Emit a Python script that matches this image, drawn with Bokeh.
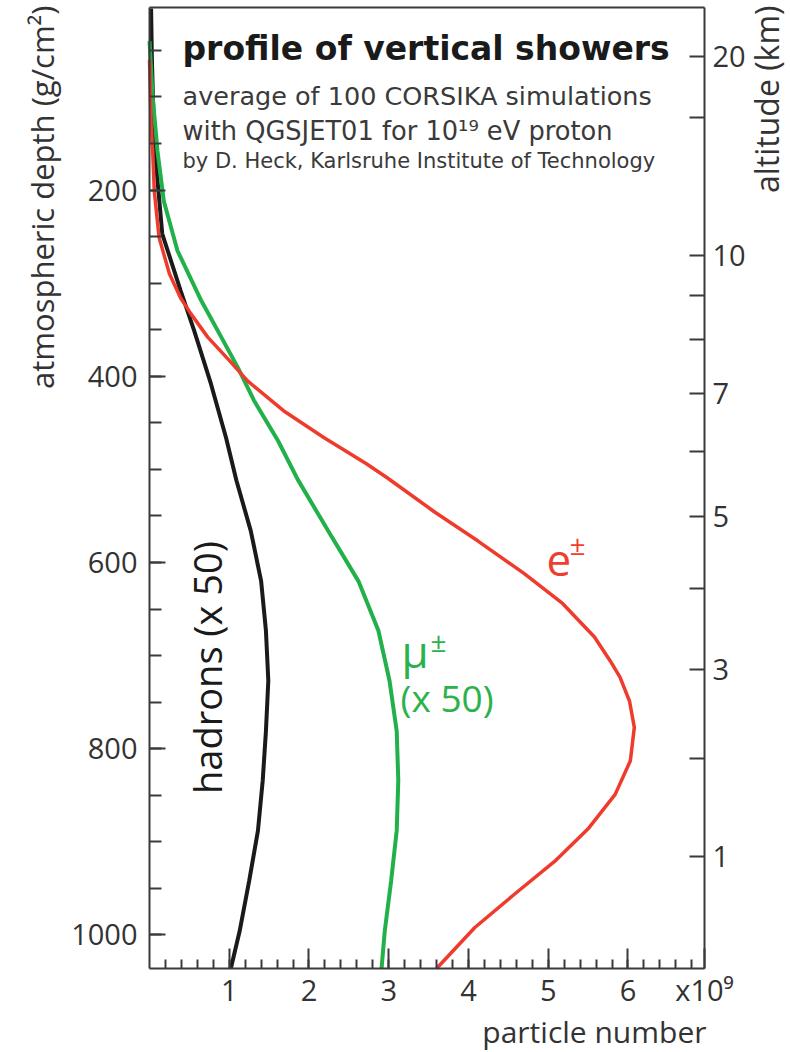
import math
from bokeh.plotting import figure
from bokeh.models import Range1d, LinearAxis, FixedTicker, Label
from bokeh.embed import file_html
from bokeh.resources import INLINE

# ---------------- data ----------------
# particle numbers in units of 1e9, depth in g/cm^2
hadron_depth = [5, 60, 120, 170, 247, 308, 351, 408, 466, 512, 566, 620, 673, 727,
                781, 834, 888, 942, 996, 1036]
hadron_n = [0.02, 0.03, 0.05, 0.08, 0.16, 0.39, 0.56, 0.77, 0.96, 1.09, 1.27, 1.40,
            1.46, 1.49, 1.46, 1.42, 1.36, 1.25, 1.13, 1.02]

muon_depth = [40, 100, 158, 212, 265, 319, 358, 391, 426, 469, 511, 566, 620, 673,
              727, 781, 834, 888, 942, 996, 1036]
muon_n = [0.0, 0.04, 0.10, 0.18, 0.35, 0.65, 0.90, 1.11, 1.31, 1.61, 1.86, 2.24,
          2.62, 2.87, 3.01, 3.10, 3.12, 3.10, 3.03, 2.95, 2.91]

electron_depth = [60, 130, 158, 201, 251, 290, 316, 333, 358, 383, 405, 437, 466,
                  494, 509, 546, 577, 612, 644, 680, 706, 723, 749, 777, 813, 849,
                  885, 921, 956, 992, 1036]
electron_n = [0.0, 0.02, 0.04, 0.06, 0.12, 0.25, 0.39, 0.52, 0.73, 1.0, 1.23, 1.68,
              2.19, 2.72, 2.98, 3.58, 4.12, 4.70, 5.18, 5.58, 5.78, 5.90, 6.02,
              6.08, 6.03, 5.84, 5.51, 5.08, 4.58, 4.08, 3.60]

depth_tick_labels = [200, 400, 600, 800, 1000]
particle_tick_labels = [1, 2, 3, 4, 5, 6]
particle_unit = "x10\u2079"

# altitude axis: km value and the atmospheric depth where its tick sits
altitude_km = [20, 15, 10, 9, 8, 7, 6, 5, 4, 3, 2, 1]
altitude_depth = [57, 122, 270, 313, 360, 419, 481, 551, 628, 715, 810, 916]
altitude_labeled = [20, 10, 7, 5, 3, 1]

# plotted box: particle number 0..X_END, depth D_TOP..D_BOTTOM
X_END = 6.96
D_TOP, D_BOTTOM = 4, 1036

# ---------------- layout (pixels of the page) ----------------
W, H = 790, 1052
BOX_L, BOX_R, BOX_T, BOX_B = 149, 704, 7, 968
sx = (BOX_R - BOX_L) / X_END
sy = (BOX_B - BOX_T) / (D_BOTTOM - D_TOP)
x_lo = -BOX_L / sx
x_hi = X_END + (W - BOX_R) / sx
d_lo = D_TOP - BOX_T / sy
d_hi = D_BOTTOM + (H - BOX_B) / sy


def px_x(px):
    return (px - BOX_L) / sx


def px_y(py):
    return D_TOP + (py - BOX_T) / sy


TICK_FONT = "Open Sans"
TEXT_COLOR = "#333333"
FRAME_COLOR = "#3a3a3a"

p = figure(width=W, height=H,
           x_range=Range1d(x_lo, x_hi), y_range=Range1d(d_hi, d_lo),
           output_backend="svg", toolbar_location=None,
           x_axis_location=None, y_axis_location=None,
           min_border_left=0, min_border_right=0,
           min_border_top=0, min_border_bottom=0)
p.grid.visible = False
p.background_fill_color = "white"
p.border_fill_color = "white"
p.outline_line_color = None


def make_axis(location, bounds, ticker, tick_in, minor_in, standoff, overrides=None):
    ax = LinearAxis(ticker=ticker, fixed_location=location, bounds=bounds)
    if overrides is not None:
        ax.major_label_overrides = overrides
    ax.axis_line_color = FRAME_COLOR
    ax.axis_line_width = 2
    ax.major_tick_line_color = FRAME_COLOR
    ax.major_tick_line_width = 2
    ax.minor_tick_line_color = FRAME_COLOR
    ax.minor_tick_line_width = 2
    ax.major_tick_in = tick_in
    ax.major_tick_out = 0
    ax.minor_tick_in = minor_in
    ax.minor_tick_out = 0
    ax.major_label_text_font = TICK_FONT
    ax.major_label_text_font_size = "29px"
    ax.major_label_text_color = TEXT_COLOR
    ax.major_label_standoff = standoff
    return ax


# left axis: atmospheric depth
left_ax = make_axis(0, (D_TOP, D_BOTTOM),
                    FixedTicker(ticks=depth_tick_labels,
                                minor_ticks=list(range(50, D_BOTTOM, 50))),
                    16, 12, 12)
p.add_layout(left_ax, "left")

# bottom axis: particle number (the last tick carries the unit)
bottom_ax = make_axis(D_BOTTOM, (0, X_END),
                      FixedTicker(ticks=particle_tick_labels + [X_END],
                                  minor_ticks=[round(0.2 * i, 1) for i in range(1, 35)]),
                      20, 9, 1, overrides={X_END: particle_unit})
p.add_layout(bottom_ax, "below")

# right axis: altitude
alt_overrides = {d: (str(k) if k in altitude_labeled else "")
                 for k, d in zip(altitude_km, altitude_depth)}
right_ax = make_axis(X_END, (D_TOP, D_BOTTOM), FixedTicker(ticks=altitude_depth),
                     15, 0, 8, overrides=alt_overrides)
p.add_layout(right_ax, "right")

# top edge of the box
top_ax = make_axis(D_TOP, (0, X_END), FixedTicker(ticks=[]), 0, 0, 0)
p.add_layout(top_ax, "above")

# ---------------- curves ----------------
p.line(hadron_n, hadron_depth, line_color="#1a1a1a", line_width=4)
p.line(muon_n, muon_depth, line_color="#22b04a", line_width=4)
p.line(electron_n, electron_depth, line_color="#ee3b2c", line_width=3.5)


# ---------------- texts ----------------
def add_label(x, y, text, size, color, font="Open Sans", style="normal",
              align="left", baseline="alphabetic", angle=0.0):
    p.add_layout(Label(x=x, y=y, text=text, text_font=font,
                       text_font_size=size, text_color=color,
                       text_font_style=style, text_align=align,
                       text_baseline=baseline, angle=angle))


# axis titles
add_label(px_x(41), px_y(5), "atmospheric depth (g/cm\u00b2)", "31px", TEXT_COLOR,
          align="right", baseline="middle", angle=math.pi / 2)
add_label(px_x(766), px_y(5), "altitude (km)", "32px", TEXT_COLOR,
          align="right", baseline="middle", angle=math.pi / 2)
add_label(px_x(706), px_y(1031), "particle number", "30px", TEXT_COLOR,
          align="right")

# title block
add_label(px_x(182), px_y(48), "profile of vertical showers", "33px", "#1a1a1a",
          font="DejaVu Sans", style="bold")
add_label(px_x(182), px_y(95), "average of 100 CORSIKA simulations", "25.5px",
          "#3a3a3a", font="DejaVu Sans")
add_label(px_x(182), px_y(130), "with QGSJET01 for 10\u00b9\u2079 eV proton", "25.7px",
          "#3a3a3a", font="DejaVu Sans")
add_label(px_x(182), px_y(160), "by D. Heck, Karlsruhe Institute of Technology",
          "21px", "#3a3a3a", font="DejaVu Sans")

# curve labels
add_label(px_x(206), px_y(667), "hadrons (x 50)", "38px", "#1a1a1a",
          align="center", baseline="middle", angle=math.pi / 2)
add_label(px_x(401), px_y(650), "\u03bc", "44px", "#2bb24c")
add_label(px_x(430), px_y(640), "\u00b1", "28px", "#2bb24c")
add_label(px_x(400), px_y(697), "(x 50)", "37px", "#2bb24c")
add_label(px_x(546), px_y(560), "e", "44px", "#ef3e2f")
add_label(px_x(569), px_y(543), "\u00b1", "28px", "#ef3e2f")

open("out.html", "w").write(file_html(p, INLINE))
